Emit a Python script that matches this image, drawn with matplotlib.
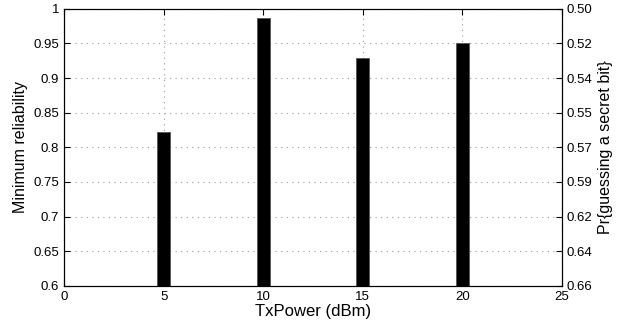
import matplotlib
matplotlib.use("Agg")
import matplotlib.pyplot as plt

plt.rcParams['font.family'] = ['Liberation Sans', 'DejaVu Sans']

tx_power = [5, 10, 15, 20]
min_reliability = [0.822, 0.987, 0.929, 0.950]
right_labels = ['0.50', '0.52', '0.54', '0.55', '0.57', '0.59', '0.62', '0.64', '0.66']
left_ticks = [1.0, 0.95, 0.9, 0.85, 0.8, 0.75, 0.7, 0.65, 0.6]

fig = plt.figure(figsize=(6.19, 3.24), dpi=100)
ax = fig.add_axes([0.1034, 0.118, 0.8046, 0.855])

ax.bar(tx_power, min_reliability, width=0.64, color='black', edgecolor='#555555', linewidth=0.6, zorder=3)
ax.set_xlim(0, 25)
ax.set_ylim(0.6, 1)
ax.set_xticks([0, 5, 10, 15, 20, 25])
ax.set_yticks(left_ticks)
ax.set_yticklabels(['1', '0.95', '0.9', '0.85', '0.8', '0.75', '0.7', '0.65', '0.6'])
ax.grid(True, linestyle=(0, (1, 4)), color='#999999', linewidth=0.8)
ax.tick_params(direction='in', top=True, labelsize=9.5, length=4)
ax.set_xlabel('TxPower (dBm)', fontsize=12, labelpad=1)
ax.set_ylabel('Minimum reliability', fontsize=11.5, labelpad=4)

ax2 = ax.twinx()
ax2.set_ylim(0.6, 1)
ax2.set_yticks(left_ticks)
ax2.set_yticklabels(right_labels)
ax2.tick_params(direction='in', labelsize=9.5, length=4)
ax2.set_ylabel('Pr{guessing a secret bit}', fontsize=11.5, labelpad=4)

fig.savefig('out.png', dpi=100)
